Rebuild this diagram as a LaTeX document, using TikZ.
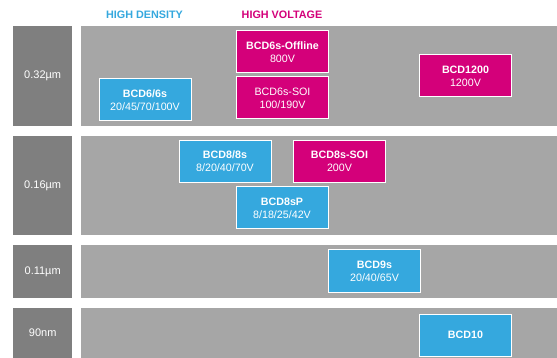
\documentclass[tikz,border=0pt]{standalone}
\usepackage{fontspec}
\setmainfont{Liberation Sans}
\definecolor{labgray}{HTML}{7F7F7F}
\definecolor{bandgray}{HTML}{A6A6A6}
\definecolor{hdblue}{HTML}{35A8DE}
\definecolor{hvpink}{HTML}{D4007A}
\begin{document}
\begin{tikzpicture}[x=1pt,y=-1pt,
  rowlabel/.style={fill=labgray,text=white,inner sep=0,anchor=north west,
    minimum width=59pt,font=\fontsize{11}{13}\selectfont},
  band/.style={fill=bandgray,inner sep=0,anchor=north west,minimum width=476pt},
  tech/.style={draw=white,line width=1pt,text=white,inner sep=0,
    minimum width=92pt,minimum height=42pt,align=center,
    font=\fontsize{10.7}{13}\selectfont},
  hd/.style={tech,fill=hdblue},
  hv/.style={tech,fill=hvpink},
  head/.style={font=\bfseries\fontsize{10.8}{13}\selectfont,inner sep=0}
]
\useasboundingbox (0,0) rectangle (557,358);
\fill[white] (0,0) rectangle (557,358);
% headers
\node[head,text=hdblue] (hdhead) at (144.5,15) {HIGH DENSITY};
\node[head,text=hvpink] (hvhead) at (282,15) {HIGH VOLTAGE};
% rows
\node[rowlabel,minimum height=100pt] (r1) at (13,26) {0.32µm};
\node[band,minimum height=100pt] (b1) at (81,26) {};
\node[rowlabel,minimum height=99pt] (r2) at (13,136) {0.16µm};
\node[band,minimum height=99pt] (b2) at (81,136) {};
\node[rowlabel,minimum height=53pt] (r3) at (13,245) {0.11µm};
\node[band,minimum height=53pt] (b3) at (81,245) {};
\node[rowlabel,minimum height=50pt] (r4) at (13,308) {90nm};
\node[band,minimum height=50pt] (b4) at (81,308) {};
% technology boxes
\node[hv] (off) at (282.5,52) {\textbf{BCD6s-Offline}\\800V};
\node[hv] (soi6) at (282.5,98) {BCD6s-SOI\\100/190V};
\node[hd] (bcd6) at (145,100) {\textbf{BCD6/6s}\\20/45/70/100V};
\node[hv] (b1200) at (465.5,76) {\textbf{BCD1200}\\1200V};
\node[hd] (bcd8) at (225,161.5) {\textbf{BCD8/8s}\\8/20/40/70V};
\node[hv] (soi8) at (339.5,161.5) {\textbf{BCD8s-SOI}\\200V};
\node[hd] (bcd8p) at (282,208) {\textbf{BCD8sP}\\8/18/25/42V};
\node[hd] (bcd9) at (374.5,271) {\textbf{BCD9s}\\20/40/65V};
\node[hd] (bcd10) at (465.5,335) {\textbf{BCD10}};
\end{tikzpicture}
\end{document}
